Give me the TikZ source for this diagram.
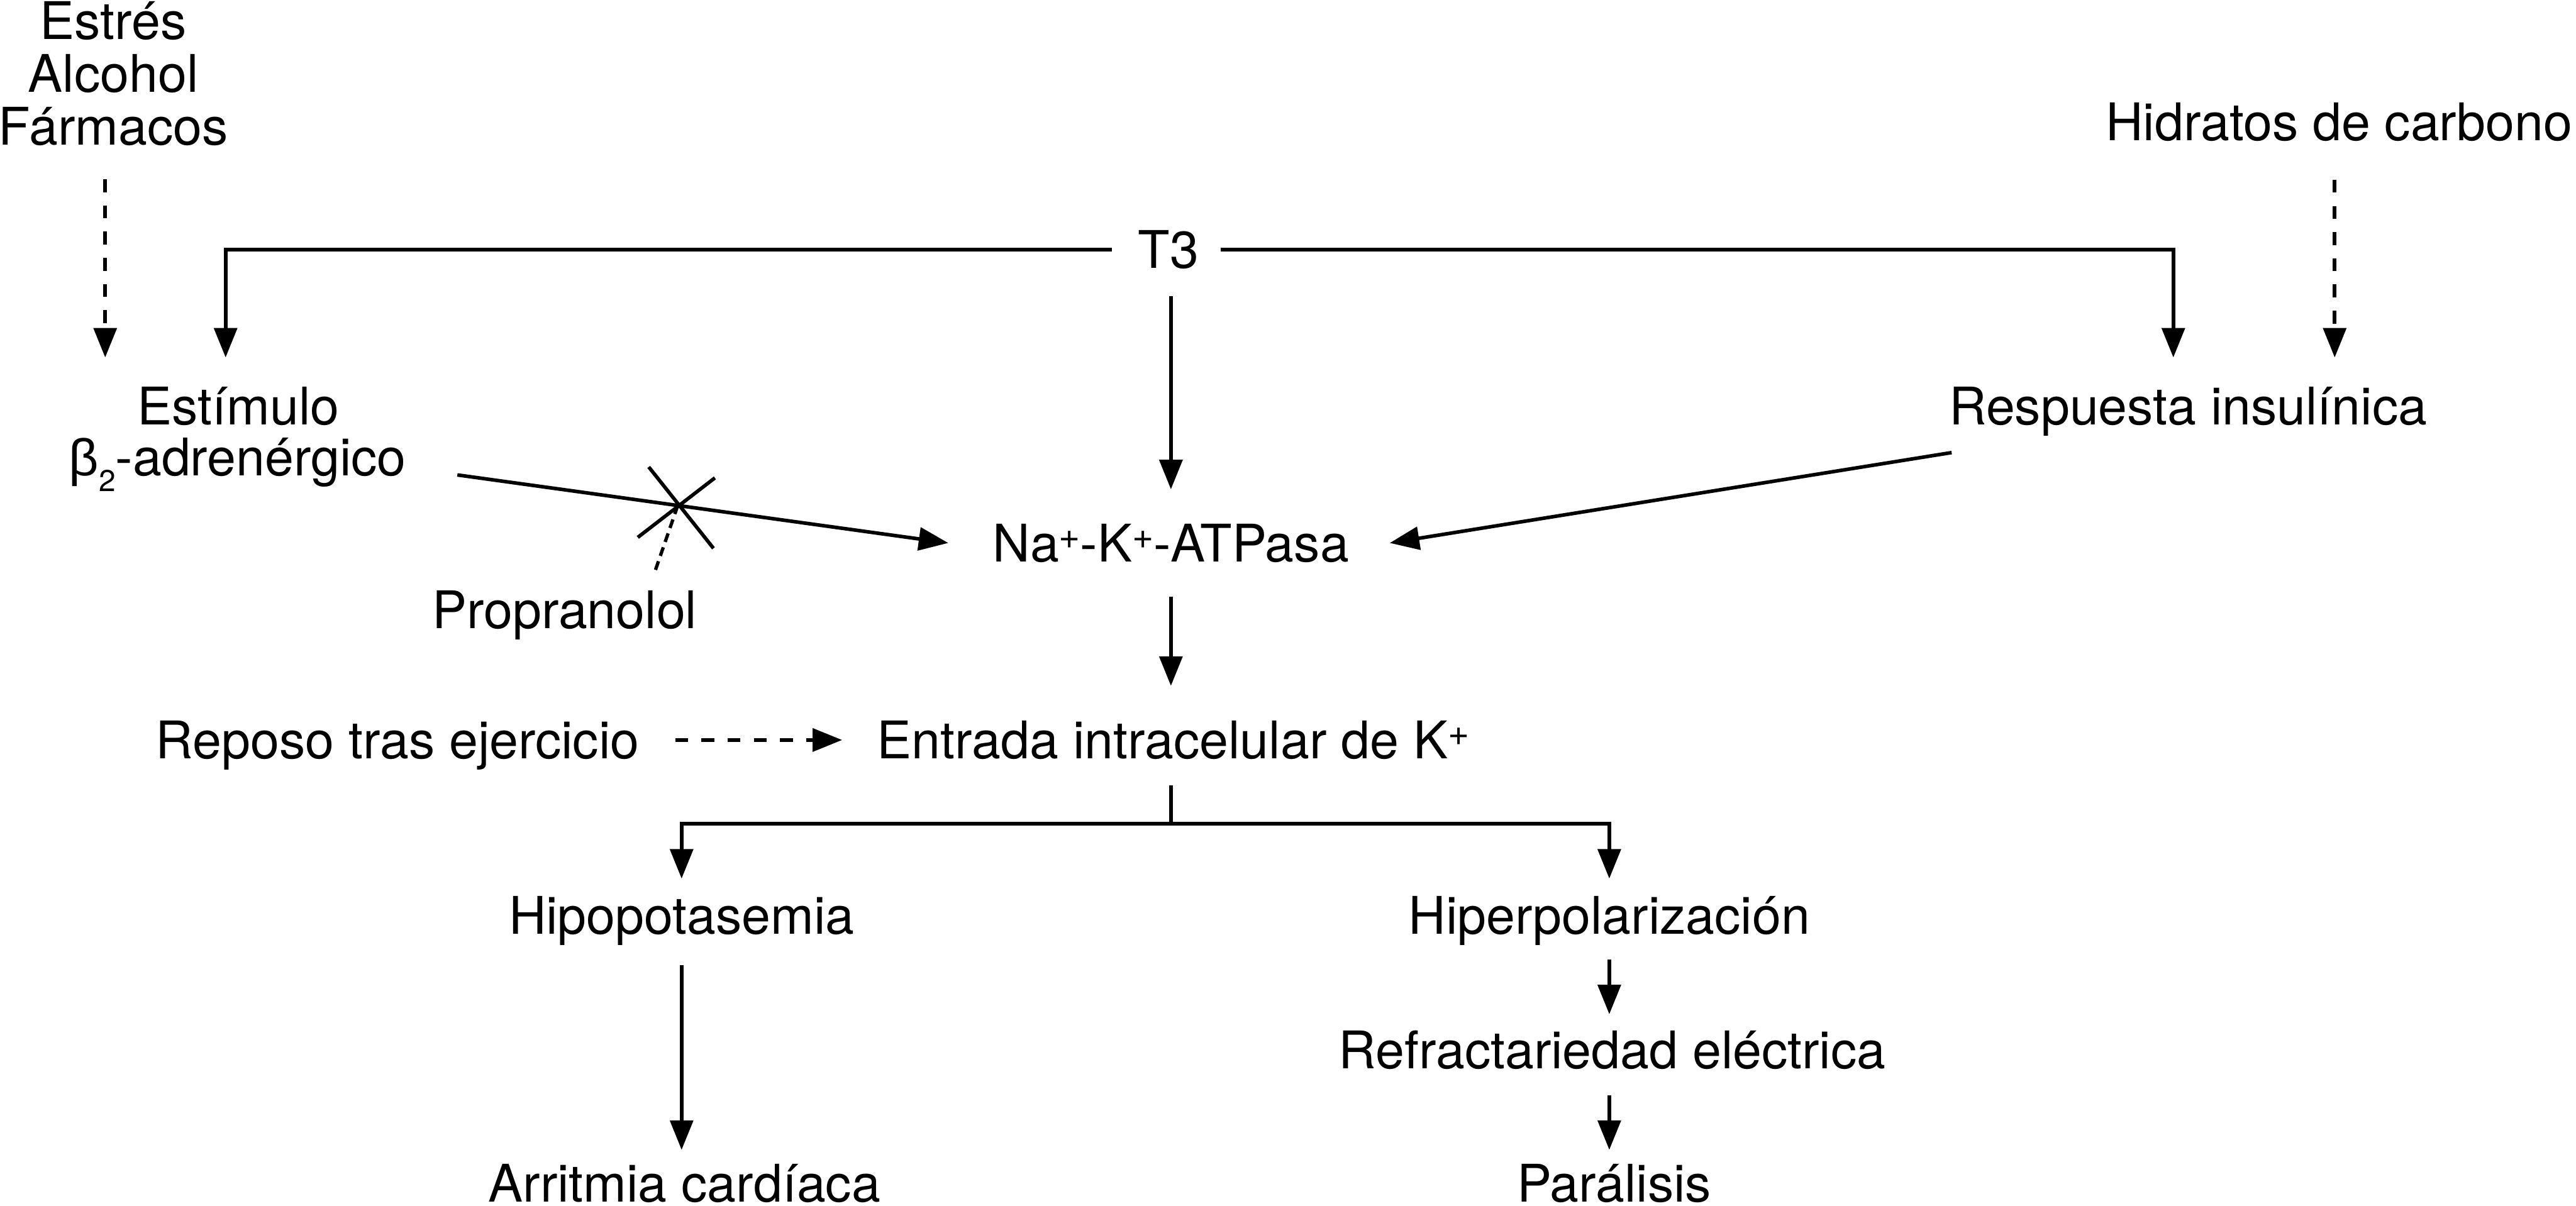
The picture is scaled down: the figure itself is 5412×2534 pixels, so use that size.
\documentclass[tikz,border=0pt]{standalone}
\usepackage{fontspec}
\setmainfont{TeX Gyre Heros}
\newfontfamily\grk{Liberation Sans}
\usetikzlibrary{arrows.meta,calc}
\newcommand\supplus{\raisebox{0.27cm}{\fontsize{22pt}{22pt}\selectfont +}}
\newcommand\subtwo{\raisebox{-0.34cm}{\fontsize{18pt}{18pt}\selectfont 2}}
\begin{document}
\begin{tikzpicture}[x=0.01cm, y=-0.01cm,
  txt/.style={inner sep=0pt, anchor=base, text height=0.78cm, text depth=0pt, font=\fontsize{31pt}{31pt}\selectfont},
  ln/.style={line width=0.075cm},
  arr/.style={ln, -{Triangle[length=0.62cm,width=0.48cm]}},
  dasharr/.style={arr, dash pattern=on 0.27cm off 0.28cm},
  dotln/.style={line width=0.07cm, dash pattern=on 0.19cm off 0.12cm}]
\useasboundingbox (0,0) rectangle (5412,2534);
\fill[white] (0,0) rectangle (5412,2534);

% texts
\node[txt] (estres) at (238,82) {Estrés};
\node[txt] (alcohol) at (238,193) {Alcohol};
\node[txt] (farm) at (238,305) {Fármacos};
\node[txt] (hidr) at (4914,295) {Hidratos de carbono};
\node[txt] (t3) at (2455,564) {T3};
\node[txt] (estim) at (501,892) {Estímulo};
\node[txt] (adren) at (499,999) {{\grk β}\subtwo-adrenérgico};
\node[txt] (resp) at (4597,892) {Respuesta insulínica};
\node[txt] (na) at (2460,1180) {Na\supplus-K\supplus-ATPasa};
\node[txt] (prop) at (1186,1321) {Propranolol};
\node[txt] (repo) at (835,1594) {Reposo tras ejercicio};
\node[txt] (ent) at (2465,1594) {Entrada intracelular de K\supplus};
\node[txt] (hipo) at (1432,1963) {Hipopotasemia};
\node[txt] (hiper) at (3381,1963) {Hiperpolarización};
\node[txt] (refr) at (3387,2246) {Refractariedad eléctrica};
\node[txt] (arrit) at (1438,2525) {Arritmia cardíaca};
\node[txt] (par) at (3391,2525) {Parálisis};

% top connectors
\draw[dasharr, shorten <=0.71cm, shorten >=0.62cm] ([xshift=-0.17cm]farm.south) -- ([xshift=-0.17cm]farm.south |- estim.north);
\draw[arr, shorten >=0.62cm] ([xshift=-0.55cm]t3.west) -| ([xshift=-0.27cm]estim.north);
\draw[arr, shorten >=0.62cm] ([xshift=0.45cm]t3.east) -| ([xshift=-0.31cm]resp.north);
\draw[dasharr, shorten <=0.82cm, shorten >=0.62cm] ([xshift=-0.09cm]hidr.south) -- ([xshift=-0.09cm]hidr.south |- resp.north);
\draw[arr, shorten <=0.57cm, shorten >=0.73cm] (na.north |- t3.south) -- (na.north);

% beta-adrenergic arrow with block
\coordinate (bs) at ([xshift=1.07cm, yshift=0.01cm]adren.base east);
\coordinate (bt) at ([xshift=-0.93cm]na.west);
\draw[arr] (bs) -- (bt);
\coordinate (xc) at ($(bs)!0.449!(bt)$);
\draw[ln] ($(xc)+(-61,-81)$) -- ($(xc)+(75,90)$);
\draw[ln] ($(xc)+(78,-58)$) -- ($(xc)+(-84,67)$);
\draw[dotln] (xc) -- ([xshift=1.88cm, yshift=0.36cm]prop.north);

% insulin arrow
\draw[arr] ([xshift=0.06cm, yshift=-0.59cm]resp.base west) -- ([xshift=0.85cm]na.east);

% middle
\draw[arr, shorten <=0.73cm, shorten >=0.74cm] (na.south) -- (na.south |- ent.north);
\draw[dasharr, shorten <=0.75cm, shorten >=0.73cm] (repo.east) -- (ent.west);

% branch
\coordinate (bj) at ($(na.south |- ent.south)+(0,136)$);
\draw[ln, shorten <=0.56cm] (na.south |- ent.south) -- (bj);
\draw[arr, shorten >=0.38cm] (bj) -| (hipo.north);
\draw[arr, shorten >=0.38cm] (bj) -| (hiper.north);

% bottom
\draw[arr, shorten <=0.64cm, shorten >=0.30cm] (hipo.south) -- (hipo.south |- arrit.north);
\draw[arr, shorten <=0.52cm, shorten >=0.36cm] (hiper.south) -- (hiper.south |- refr.north);
\draw[arr, shorten <=0.55cm, shorten >=0.30cm] (refr.south -| hiper.south) -- (hiper.south |- par.north);
\end{tikzpicture}
\end{document}
